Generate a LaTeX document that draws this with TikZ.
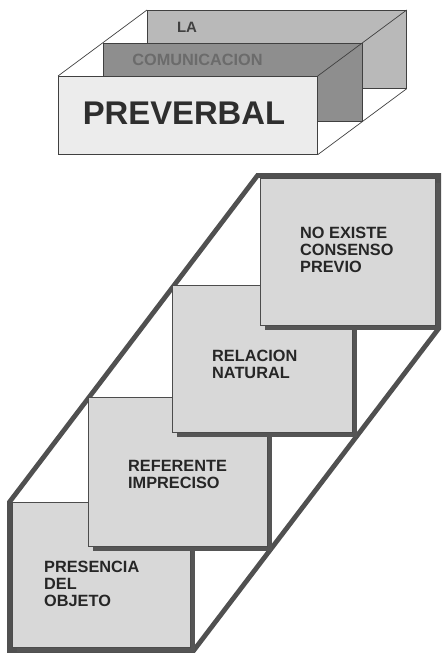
\documentclass[tikz,border=0pt]{standalone}
\usepackage{fontspec}
\setmainfont{Liberation Sans}
\usetikzlibrary{calc,shadows,backgrounds}
\definecolor{sqfill}{HTML}{D8D8D8}
\definecolor{shadowc}{HTML}{555555}
\definecolor{outlc}{HTML}{505050}
\definecolor{backfill}{HTML}{B9B9B9}
\definecolor{midfill}{HTML}{8E8E8E}
\definecolor{frontfill}{HTML}{ECECEC}
\tikzset{
  panel/.style={draw=black!75, line width=0.7pt, minimum width=259pt, minimum height=78pt, anchor=north west, inner sep=0pt},
  sqbox/.style={draw=black!70, line width=0.6pt, fill=sqfill, anchor=north west, inner sep=0pt,
    drop shadow={fill=shadowc, opacity=1, shadow xshift=5pt, shadow yshift=-5pt}},
  sqtext/.style={font=\bfseries\fontsize{16.3}{17}\selectfont, text=black!85, align=left, anchor=west, inner sep=0pt},
  edgeline/.style={draw=black!75, line width=0.7pt},
  thickline/.style={draw=outlc, line width=4.8pt, line join=miter}
}
\begin{document}
\begin{tikzpicture}[x=1pt,y=-1pt]
\useasboundingbox (0,0) rectangle (442,653);
% top box
\node[panel, fill=backfill] (bp) at (147,10) {};
\node[panel, fill=midfill] (mp) at (102.5,43) {};
\node[panel, fill=frontfill] (fp) at (58,76) {};
\draw[edgeline] (fp.north west) -- (bp.north west);
\draw[edgeline] (fp.north east) -- (bp.north east);
\draw[edgeline] (fp.south east) -- (bp.south east);
\node[font=\bfseries\fontsize{15}{15}\selectfont, text=black!75, inner sep=0pt] (tla) at (187,27) {LA};
\node[font=\bfseries\fontsize{16.3}{15}\selectfont, text=black!58, inner sep=0pt] (tcom) at (197.5,60) {COMUNICACION};
\node[font=\bfseries\fontsize{32.8}{31}\selectfont, text=black!82, inner sep=0pt] (tpre) at (184,113) {PREVERBAL};
% staircase squares
\node[sqbox, minimum width=178pt, minimum height=145pt] (s1) at (12,502) {};
\node[sqbox, minimum width=179pt, minimum height=149pt] (s2) at (88,397) {};
\node[sqbox, minimum width=180pt, minimum height=147pt] (s3) at (172,285) {};
\node[sqbox, minimum width=175pt, minimum height=147pt] (s4) at (260,178) {};
\begin{scope}[on background layer]
\draw[thickline]
  ($(s1.south west)+(-2.5,3)$) -- ($(s1.north west)+(-2.5,0)$)
  -- ($(s4.north west)+(-2.5,-2.5)$) -- ($(s4.north east)+(3,-2.5)$)
  -- ($(s4.south east)+(3,3)$) -- ($(s1.south east)+(3,3)$) -- cycle;
\end{scope}
\node[sqtext] (t4) at (300,250) {NO EXISTE\\CONSENSO\\PREVIO};
\node[sqtext] (t3) at (212,364) {RELACION\\NATURAL};
\node[sqtext] (t2) at (128,474.5) {REFERENTE\\IMPRECISO};
\node[sqtext] (t1) at (44,584) {PRESENCIA\\DEL\\OBJETO};
\end{tikzpicture}
\end{document}
